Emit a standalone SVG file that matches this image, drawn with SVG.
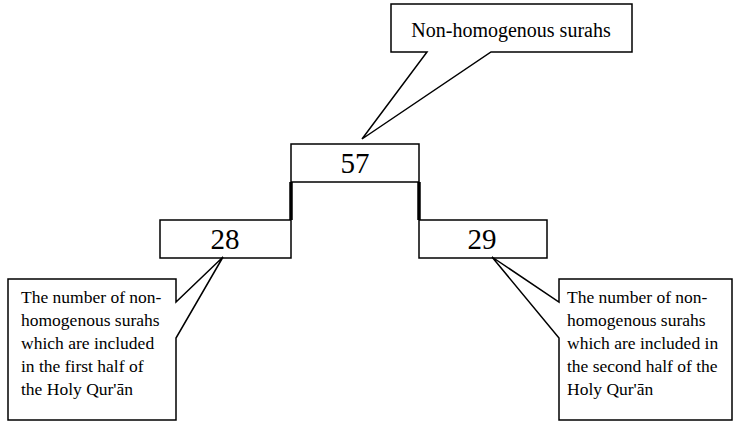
<svg xmlns="http://www.w3.org/2000/svg" width="735" height="422" viewBox="0 0 735 422">
<style>
.sh{fill:#fff;stroke:#000;stroke-width:1.5;stroke-linejoin:miter}
.num{font-family:"Liberation Serif","Times New Roman",serif;font-size:29px;text-anchor:middle;fill:#000}
.big{font-family:"Liberation Serif","Times New Roman",serif;font-size:20px;text-anchor:middle;fill:#000}
.sm{font-family:"Liberation Serif","Times New Roman",serif;font-size:17.5px;fill:#000}
.thick{stroke:#000;stroke-width:3.5;fill:none}
</style>
<rect width="735" height="422" fill="#fff"/>
<g id="callout-top">
<polygon class="sh" points="391,4 632,4 632,52 491,52 362,139 427,52 391,52"/>
<text class="big" x="511" y="37">Non-homogenous surahs</text>
</g>
<g id="node-57">
<rect class="sh" x="291" y="144" width="128" height="38"/>
<text class="num" x="355" y="173">57</text>
</g>
<g id="node-28">
<rect class="sh" x="160" y="220" width="131" height="38"/>
<text class="num" x="225" y="249">28</text>
</g>
<g id="node-29">
<rect class="sh" x="419" y="220" width="128" height="38"/>
<text class="num" x="482" y="249">29</text>
</g>
<g id="connectors">
<line class="thick" x1="291" y1="182" x2="291" y2="220"/>
<line class="thick" x1="419" y1="182" x2="419" y2="220"/>
</g>
<g id="callout-left">
<polygon class="sh" points="8,279 176,279 176,302 223,257 176,338 176,420 8,420"/>
<text class="sm" x="21"><tspan x="21" y="303">The number of non-</tspan><tspan x="21" y="326">homogenous surahs</tspan><tspan x="21" y="349">which are included</tspan><tspan x="21" y="372">in the first half of</tspan><tspan x="21" y="395">the Holy Qur'ān</tspan></text>
</g>
<g id="callout-right">
<polygon class="sh" points="559,279 732,279 732,420 559,420 559,338 492,257 559,302"/>
<text class="sm"><tspan x="567" y="303">The number of non-</tspan><tspan x="567" y="326">homogenous surahs</tspan><tspan x="567" y="349">which are included in</tspan><tspan x="567" y="372">the second half of the</tspan><tspan x="567" y="395">Holy Qur'ān</tspan></text>
</g>
</svg>
